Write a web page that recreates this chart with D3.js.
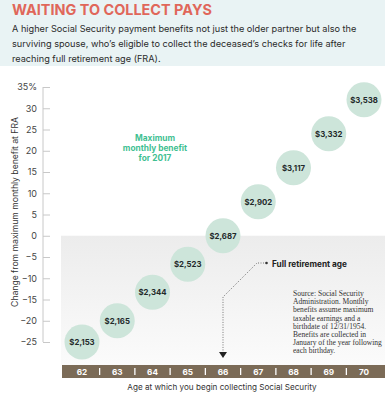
<!DOCTYPE html>
<html><head><meta charset="utf-8">
<script src="https://cdn.jsdelivr.net/npm/d3@7"></script>
<style>body{margin:0;background:#fff;}svg{display:block;font-family:Inter,"Noto Sans",sans-serif;}</style>
</head><body><div id="chart"></div>
<script>
const ages = [62,63,64,65,66,67,68,69,70];
const pctChange = [-25,-20,-13.3,-6.7,0,8,16,24,32];
const benefits = ["$2,153","$2,165","$2,344","$2,523","$2,687","$2,902","$3,117","$3,332","$3,538"];
const yTicks = [-25,-20,-15,-10,-5,0,5,10,15,20,25,30,35];
const title = "WAITING TO COLLECT PAYS";
const subtitle = ["A higher Social Security payment benefits not just the older partner but also the",
 "surviving spouse, who\u2019s eligible to collect the deceased\u2019s checks for life after",
 "reaching full retirement age (FRA)."];
const sourceNote = ["Source: Social Security","Administration. Monthly","benefits assume maximum","taxable earnings and a","birthdate of 12/31/1954.","Benefits are collected in","January of the year following","each birthday."];

const W=385,H=393;
const svg=d3.select("#chart").append("svg").attr("width",W).attr("height",H);
// scale font-size of a selection so its widest text fits the target width
function fit(sel,target){
  let w=0; sel.each(function(){w=Math.max(w,this.getComputedTextLength());});
  const fs=parseFloat(sel.attr("font-size"));
  sel.attr("font-size",(fs*target/w).toFixed(2));
}
const defs=svg.append("defs");
const grad=defs.append("linearGradient").attr("id","g").attr("x1",0).attr("y1",0).attr("x2",0).attr("y2",1);
grad.append("stop").attr("offset","0%").attr("stop-color","#ececec");
grad.append("stop").attr("offset","100%").attr("stop-color","#fbfbfb");

// header
svg.append("rect").attr("x",0).attr("y",0).attr("width",W).attr("height",66).attr("fill","#e9f3f4");
fit(svg.append("text").attr("x",12).attr("y",14.5).text(title).attr("fill","#e0675a").attr("font-size",16).attr("font-weight",700),200);
const sub=svg.append("g").selectAll("text").data(subtitle).join("text").attr("x",12).attr("y",(d,i)=>31.5+i*15).text(d=>d)
  .attr("fill","#2b2b2b").attr("font-size",10);
fit(sub,345);

const x=d3.scalePoint().domain(ages).range([82,364]);
const y=d3.scaleLinear().domain([-25,35]).range([342,87]);

// grey area
svg.append("rect").attr("x",61).attr("y",y(0)).attr("width",W-61).attr("height",365-y(0)).attr("fill","url(#g)");

// y axis
const ya=svg.append("g").attr("transform","translate(43,0)").call(d3.axisRight(y).tickValues(yTicks).tickSize(7).tickFormat(d=>d===35?"35%":d3.format("")(d).replace("-","\u2212")));
ya.select(".domain").attr("stroke","#c8c8c8").attr("d",`M0,${y(35)}V${y(-25)}`);
ya.selectAll(".tick line").attr("stroke","#c8c8c8");
ya.selectAll(".tick text").attr("x",-6).attr("text-anchor","end").attr("fill","#444").attr("font-size",9).attr("font-family","Inter,sans-serif");

fit(svg.append("text").attr("transform","translate(18,212) rotate(-90)").attr("text-anchor","middle").attr("font-size",9).attr("fill","#333")
  .text("Change from maximum monthly benefit at FRA"),190);

// band
svg.append("rect").attr("x",62).attr("y",365).attr("width",W-62).attr("height",13).attr("fill","#7b6b57");
svg.append("g").selectAll("text").data(ages).join("text").attr("x",d=>x(d)).attr("y",374.5).attr("text-anchor","middle")
  .attr("fill","#fff").attr("font-size",8.2).attr("font-weight",700).text(d=>d);
svg.append("g").selectAll("line").data(ages.slice(1)).join("line").attr("x1",d=>x(d)-x.step()/2).attr("x2",d=>x(d)-x.step()/2)
  .attr("y1",368).attr("y2",375).attr("stroke","#fff").attr("stroke-width",1.3);
fit(svg.append("text").attr("x",222).attr("y",390).attr("text-anchor","middle").attr("font-size",9).attr("fill","#333")
  .text("Age at which you begin collecting Social Security"),190);

// annotation
const lab=svg.append("text").attr("x",155).attr("y",141).attr("text-anchor","middle").attr("fill","#3fbf92").attr("font-size",8.3).attr("font-weight",700);
["Maximum","monthly benefit","for 2017"].forEach((t,i)=>lab.append("tspan").attr("x",155).attr("dy",i?10:0).text(t));

const fx=x(66);
svg.append("path").attr("d",`M264,263H257L${fx},297V352`).attr("fill","none").attr("stroke","#555").attr("stroke-width",0.8).attr("stroke-dasharray","1,1.5");
svg.append("circle").attr("cx",266.5).attr("cy",263).attr("r",1.3).attr("fill","#333");
svg.append("path").attr("d",`M${fx-4},352L${fx+4},352L${fx},358Z`).attr("fill","#222");
fit(svg.append("text").attr("x",272).attr("y",266.5).attr("font-size",9).attr("font-weight",700).attr("fill","#222").text("Full retirement age"),75);

const src=svg.append("g").selectAll("text").data(sourceNote).join("text").attr("x",293).attr("y",(d,i)=>296+i*8.2)
  .attr("font-family","'Liberation Serif','DejaVu Serif',serif").attr("font-size",8).attr("fill","#333").text(d=>d);
fit(src,89);

// bubbles
const b=svg.append("g").selectAll("g").data(ages).join("g").attr("transform",(d,i)=>`translate(${x(d)},${y(pctChange[i])})`);
b.append("circle").attr("r",17.5).attr("fill","#cde5da");
b.append("text").attr("text-anchor","middle").attr("dy",3).attr("font-size",7.8).attr("font-weight",700).attr("fill","#1f2a2a").text((d,i)=>benefits[i]);
</script></body></html>
